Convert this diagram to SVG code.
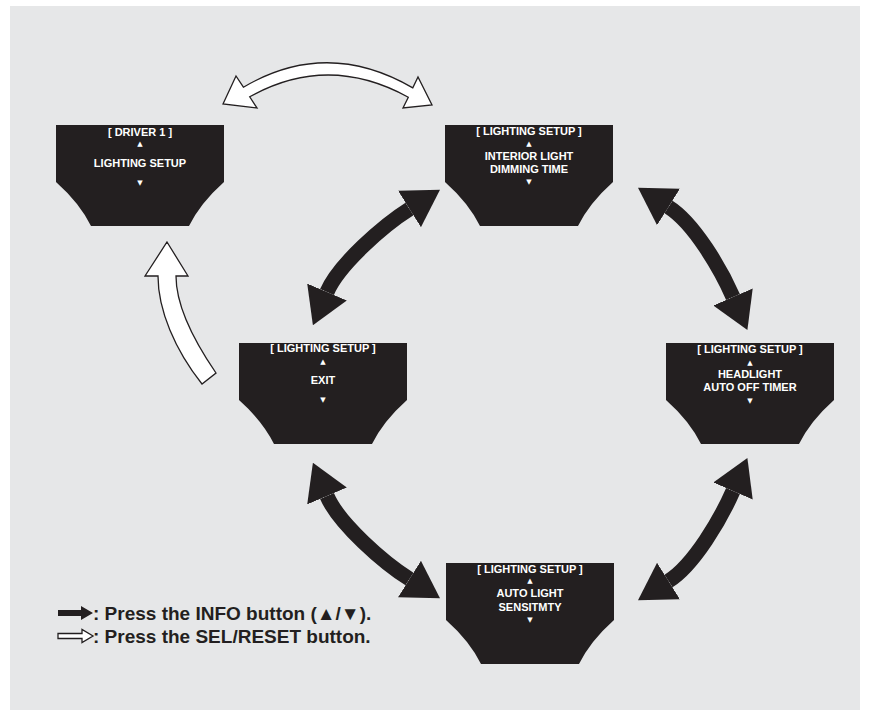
<svg xmlns="http://www.w3.org/2000/svg" width="870" height="716" viewBox="0 0 870 716">
<defs>
<style>
.scr{fill:#231f20}
.t{fill:#fff;font-family:"Liberation Sans",Arial,sans-serif;font-weight:bold;font-size:11px;text-anchor:middle}
.tri{fill:#fff;font-family:"DejaVu Sans",sans-serif;font-size:7px;text-anchor:middle}
.blk{fill:none;stroke:#231f20;stroke-width:15}
.wht{fill:#fff;stroke:#231f20;stroke-width:1.3;stroke-linejoin:miter}
.leg{fill:#231f20;font-family:"Liberation Sans",Arial,sans-serif;font-weight:bold;font-size:19px}
</style>
<path id="screen" d="M0,0 H168 V57 Q144.4,78 133,101 H35 Q23.6,78 0,57 Z"/>
<marker id="bh" viewBox="0 -22 37 44" refX="0" refY="0" markerWidth="37" markerHeight="44" markerUnits="userSpaceOnUse" orient="auto-start-reverse">
<path d="M0,-21.5 L36,0 L0,21.5 Z" fill="#231f20"/>
</marker>
</defs>
<rect x="10" y="6" width="850" height="704" fill="#e6e7e8"/>

<g id="connectors">
<path class="blk" d="M409.5,209 C384,225 338.7,264.5 327,292" marker-start="url(#bh)" marker-end="url(#bh)"/>
<path class="blk" d="M668.5,207 C694,223 721,269.5 733,297" marker-start="url(#bh)" marker-end="url(#bh)"/>
<path class="blk" d="M409.5,579 C384,563 338.7,523.5 327,496" marker-start="url(#bh)" marker-end="url(#bh)"/>
<path class="blk" d="M668.5,581 C694,565 721,518.5 733,491" marker-start="url(#bh)" marker-end="url(#bh)"/>
<path class="wht" d="M223,104 L236,76 L243.4,87.2 Q327,38 412.8,87.9 L418,77 L432,105 L403,108 L408.3,97.2 Q328,53 249.7,96.8 L257,108 Z"/>
<path class="wht" d="M167,242 L188,276 L176,276 C176,305 192,338 216,373 L202,384 C175,350 158,310 158,276 L145,276 Z"/>
</g>

<g id="node-driver1" transform="translate(56,125)">
<use href="#screen" class="scr"/>
<text class="t" x="84" y="11">[ DRIVER 1 ]</text>
<text class="tri" x="84" y="21">▲</text>
<text class="t" x="84" y="42">LIGHTING SETUP</text>
<text class="tri" x="84" y="60">▼</text>
</g>

<g id="node-interior" transform="translate(445,125)">
<use href="#screen" class="scr"/>
<text class="t" x="84" y="10">[ LIGHTING SETUP ]</text>
<text class="tri" x="84" y="21">▲</text>
<text class="t" x="84" y="35">INTERIOR LIGHT</text>
<text class="t" x="84" y="48">DIMMING TIME</text>
<text class="tri" x="84" y="59">▼</text>
</g>

<g id="node-exit" transform="translate(239,343)">
<use href="#screen" class="scr"/>
<text class="t" x="84" y="9">[ LIGHTING SETUP ]</text>
<text class="tri" x="84" y="21">▲</text>
<text class="t" x="84" y="41">EXIT</text>
<text class="tri" x="84" y="59">▼</text>
</g>

<g id="node-headlight" transform="translate(666,343)">
<use href="#screen" class="scr"/>
<text class="t" x="84" y="10">[ LIGHTING SETUP ]</text>
<text class="tri" x="84" y="22">▲</text>
<text class="t" x="84" y="35">HEADLIGHT</text>
<text class="t" x="84" y="48">AUTO OFF TIMER</text>
<text class="tri" x="84" y="60">▼</text>
</g>

<g id="node-autolight" transform="translate(446,563)">
<use href="#screen" class="scr"/>
<text class="t" x="84" y="10">[ LIGHTING SETUP ]</text>
<text class="tri" x="84" y="20">▲</text>
<text class="t" x="84" y="34">AUTO LIGHT</text>
<text class="t" x="84" y="48">SENSITMTY</text>
<text class="tri" x="84" y="59">▼</text>
</g>

<g id="legend">
<path d="M58,610 H81 V606 L93,613 L81,620 V616 H58 Z" fill="#231f20"/>
<text class="leg" x="93" y="620">: Press the INFO button (▲/▼).</text>
<path class="wht" d="M58,633.5 H82 V629.5 L93,636 L82,642.5 V638.5 H58 Z"/>
<text class="leg" x="93" y="643">: Press the SEL/RESET button.</text>
</g>
</svg>
